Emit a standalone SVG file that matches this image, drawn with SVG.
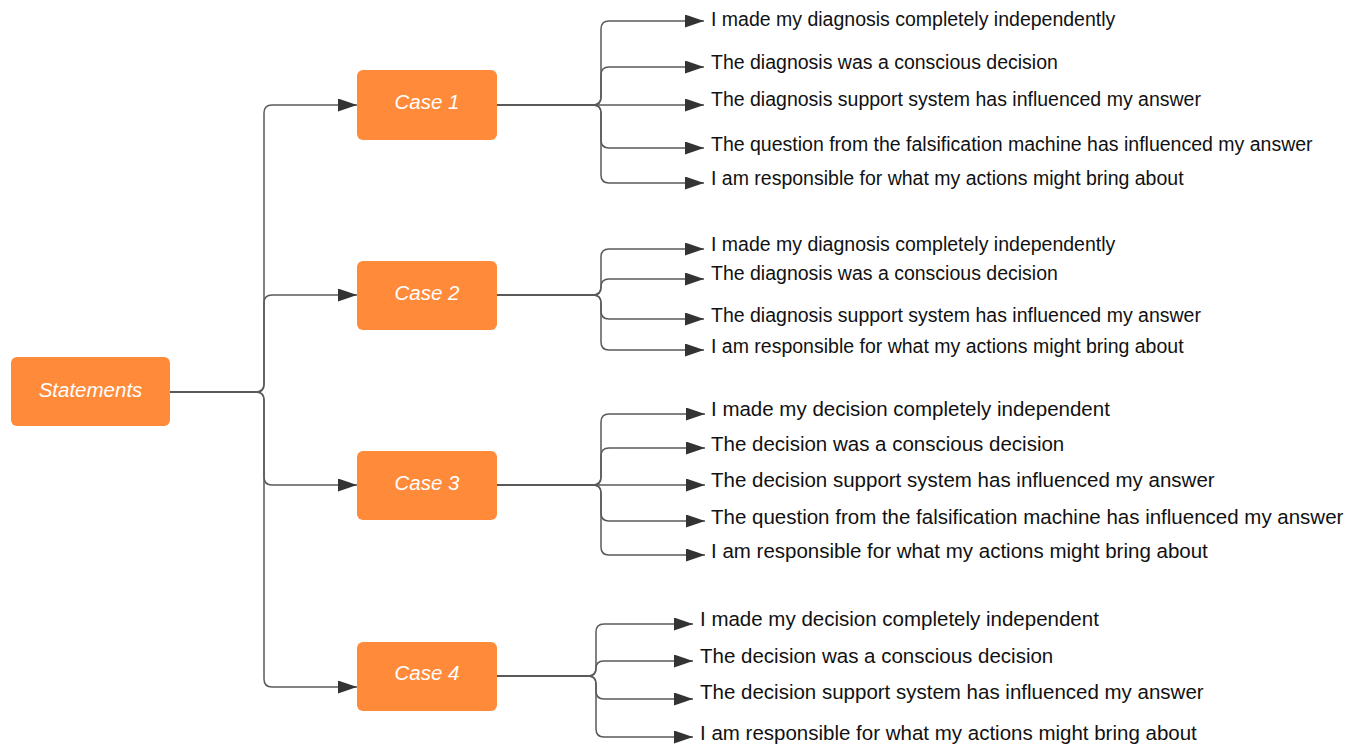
<svg xmlns="http://www.w3.org/2000/svg" width="1365" height="744" viewBox="0 0 1365 744">
<defs>
<style>
.box{fill:#FF8A3A;}
.lbl{font-family:"Liberation Sans",Arial,sans-serif;font-style:italic;font-size:20.5px;fill:#ffffff;text-anchor:middle;}
.t1{font-family:"Liberation Sans",Arial,sans-serif;font-size:19.5px;fill:#111111;}
.t2{font-family:"Liberation Sans",Arial,sans-serif;font-size:20.5px;fill:#111111;}
.c{fill:none;stroke:#5a5a5a;stroke-width:1.5;marker-end:url(#ah);}
</style>
<marker id="ah" markerUnits="userSpaceOnUse" markerWidth="20" markerHeight="14" refX="19" refY="6.5" orient="auto">
<path d="M0,0 L19,6.5 L0,13 z" fill="#333333"/>
</marker>
</defs>
<rect width="1365" height="744" fill="#ffffff"/>
<g id="connectors">
<path class="c" d="M170,392 H256 Q264,392 264,384 V113 Q264,105 272,105 H357"/>
<path class="c" d="M170,392 H256 Q264,392 264,384 V303 Q264,295 272,295 H357"/>
<path class="c" d="M170,392 H256 Q264,392 264,400 V477 Q264,485 272,485 H357"/>
<path class="c" d="M170,392 H256 Q264,392 264,400 V679 Q264,687 272,687 H357"/>
<path class="c" d="M497,105 H593 Q601,105 601,97 V29 Q601,21 609,21 H704"/>
<path class="c" d="M497,105 H593 Q601,105 601,97 V75 Q601,67 609,67 H704"/>
<path class="c" d="M497,105 H704"/>
<path class="c" d="M497,105 H593 Q601,105 601,113 V140 Q601,148 609,148 H704"/>
<path class="c" d="M497,105 H593 Q601,105 601,113 V175 Q601,183 609,183 H704"/>
<path class="c" d="M497,295 H593 Q601,295 601,287 V257 Q601,249 609,249 H704"/>
<path class="c" d="M497,295 H593 Q601,295 601,287 Q601,279 609,279 H704"/>
<path class="c" d="M497,295 H593 Q601,295 601,303 V311 Q601,319 609,319 H704"/>
<path class="c" d="M497,295 H593 Q601,295 601,303 V342 Q601,350 609,350 H704"/>
<path class="c" d="M497,485 H593 Q601,485 601,477 V422 Q601,414 609,414 H705"/>
<path class="c" d="M497,485 H593 Q601,485 601,477 V456 Q601,448 609,448 H705"/>
<path class="c" d="M497,485 H705"/>
<path class="c" d="M497,485 H593 Q601,485 601,493 V513 Q601,521 609,521 H705"/>
<path class="c" d="M497,485 H593 Q601,485 601,493 V547 Q601,555 609,555 H705"/>
<path class="c" d="M497,676 H588 Q596,676 596,668 V632 Q596,624 604,624 H693"/>
<path class="c" d="M497,676 H588 Q596,676 596,668.5 Q596,661 603.5,661 H693"/>
<path class="c" d="M497,676 H588 Q596,676 596,684 V691 Q596,699 604,699 H693"/>
<path class="c" d="M497,676 H588 Q596,676 596,684 V729 Q596,737 604,737 H693"/>
</g>
<g id="statements"><rect class="box" x="11" y="357" width="159" height="69" rx="6"/><text class="lbl" x="90.5" y="396.5">Statements</text></g>
<g id="case1"><rect class="box" x="357" y="70" width="140" height="70" rx="6"/><text class="lbl" x="427" y="109">Case 1</text></g>
<g id="case2"><rect class="box" x="357" y="261" width="140" height="69" rx="6"/><text class="lbl" x="427" y="299.5">Case 2</text></g>
<g id="case3"><rect class="box" x="357" y="451" width="140" height="69" rx="6"/><text class="lbl" x="427" y="489.5">Case 3</text></g>
<g id="case4"><rect class="box" x="357" y="642" width="140" height="69" rx="6"/><text class="lbl" x="427" y="680">Case 4</text></g>
<g id="case1-items">
<text class="t1" x="711" y="26">I made my diagnosis completely independently</text>
<text class="t1" x="711" y="69">The diagnosis was a conscious decision</text>
<text class="t1" x="711" y="106">The diagnosis support system has influenced my answer</text>
<text class="t1" x="711" y="151">The question from the falsification machine has influenced my answer</text>
<text class="t1" x="711" y="185">I am responsible for what my actions might bring about</text>
</g>
<g id="case2-items">
<text class="t1" x="711" y="251">I made my diagnosis completely independently</text>
<text class="t1" x="711" y="280">The diagnosis was a conscious decision</text>
<text class="t1" x="711" y="322">The diagnosis support system has influenced my answer</text>
<text class="t1" x="711" y="353">I am responsible for what my actions might bring about</text>
</g>
<g id="case3-items">
<text class="t2" x="711" y="416">I made my decision completely independent</text>
<text class="t2" x="711" y="451">The decision was a conscious decision</text>
<text class="t2" x="711" y="487">The decision support system has influenced my answer</text>
<text class="t2" x="711" y="524">The question from the falsification machine has influenced my answer</text>
<text class="t2" x="711" y="558">I am responsible for what my actions might bring about</text>
</g>
<g id="case4-items">
<text class="t2" x="700" y="626">I made my decision completely independent</text>
<text class="t2" x="700" y="663">The decision was a conscious decision</text>
<text class="t2" x="700" y="699">The decision support system has influenced my answer</text>
<text class="t2" x="700" y="740">I am responsible for what my actions might bring about</text>
</g>
</svg>
